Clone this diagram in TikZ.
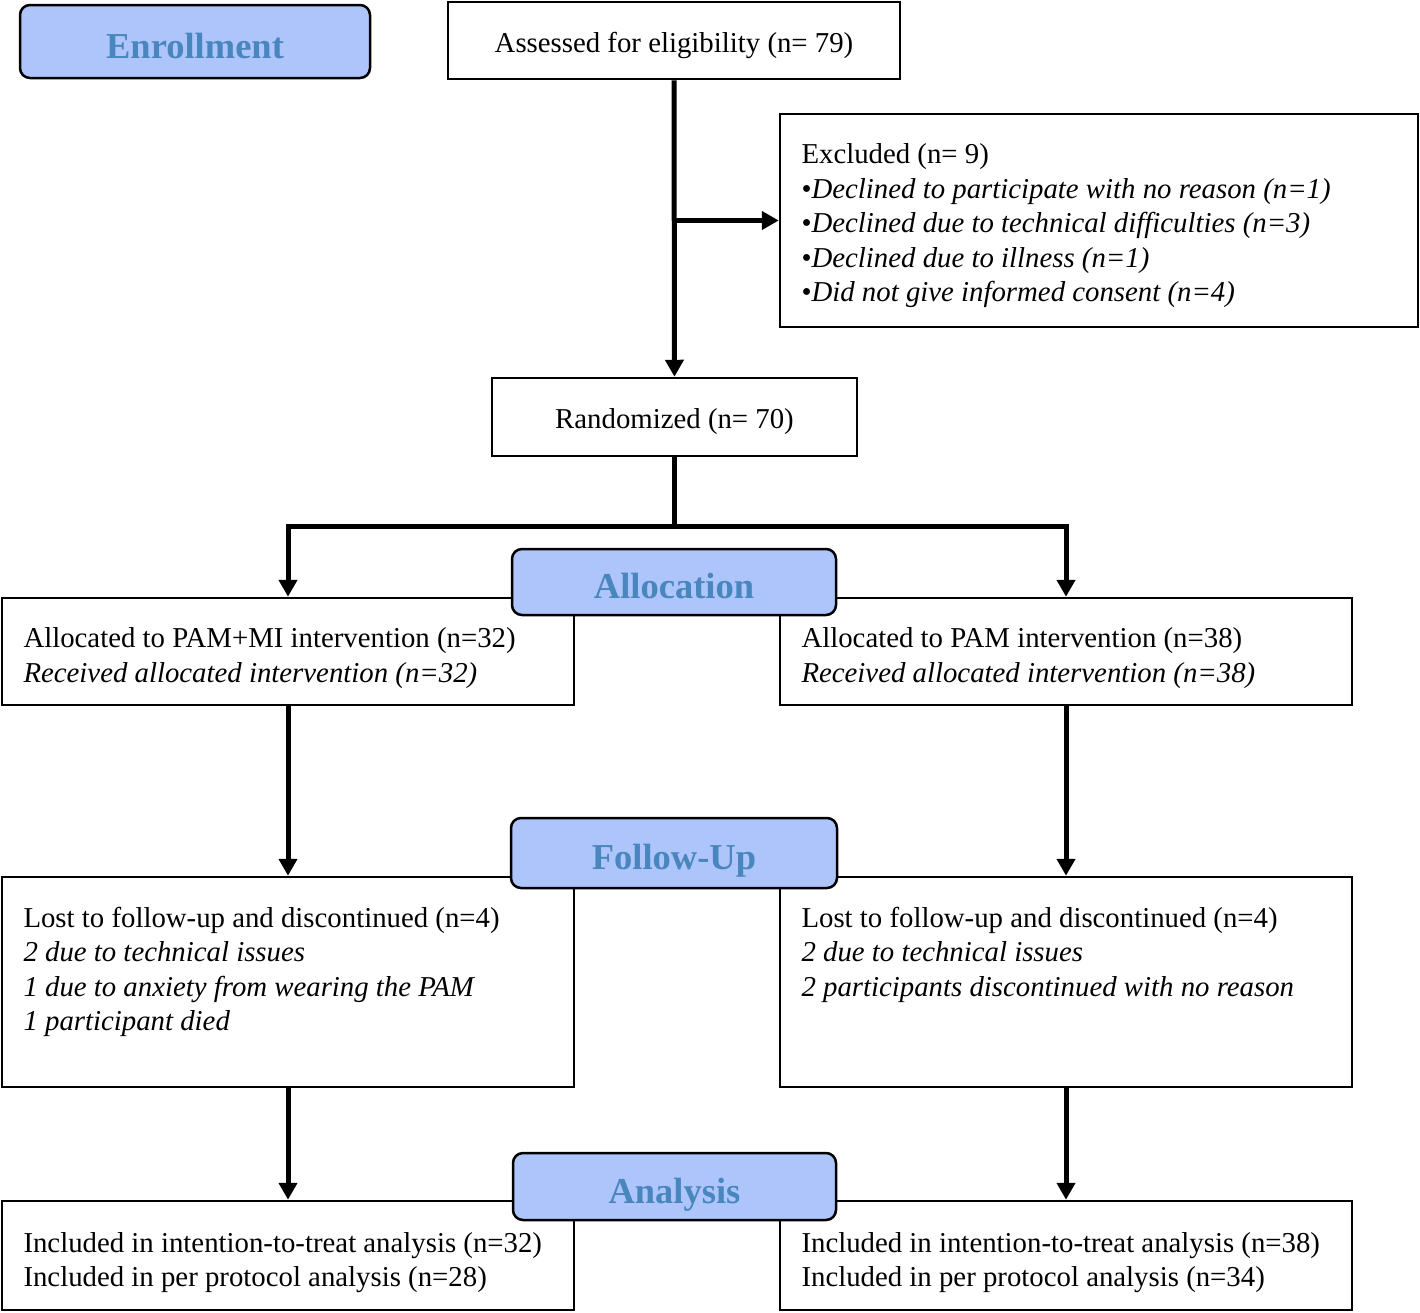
\documentclass[tikz,border=0pt]{standalone}
\usepackage{fontspec}
\setmainfont{Liberation Serif}
\usepackage{xcolor}
\usetikzlibrary{arrows.meta}
\definecolor{stagefill}{RGB}{173,197,250}
\definecolor{stagetext}{RGB}{74,134,190}

% left-aligned lines, hung from the top of the box
\newcommand{\boxlines}[3]{\parbox[c][#2][t]{#1}{\raggedright #3}}

\tikzset{
    box/.style={draw, line width=2.5pt, inner sep=0pt, font=\fontsize{28.8}{34.5}\selectfont},
    onebox/.style={box, text height=23pt, text depth=0pt},
    leftbox/.style={box, inner xsep=21.5pt, inner ysep=#1},
    stage/.style={draw, line width=2.5pt, rounded corners=10pt, fill=stagefill, text=stagetext,
        text height=33pt, text depth=0pt, font=\bfseries\fontsize{36.5}{40}\selectfont},
    flow/.style={line width=5pt},
    arr/.style={flow, -{Triangle[length=17pt, width=18pt]}}
}

\begin{document}
\begin{tikzpicture}[x=1pt, y=-1pt]
        \useasboundingbox (0,0) rectangle (1420,1312);
        \coordinate (split) at (674.5, 526);

        \node[onebox, minimum width=452pt, minimum height=77pt] (assess) at (674, 40.5) {Assessed for eligibility (n= 79)};
        \node[leftbox=30pt] (excl) at (1099, 220.5) {\boxlines{595pt}{153pt}{Excluded (n= 9)\\
            \textbullet\textit{Declined to participate with no reason (n=1)}\\
            \textbullet\textit{Declined due to technical difficulties (n=3)}\\
            \textbullet\textit{Declined due to illness (n=1)}\\
            \textbullet\textit{Did not give informed consent (n=4)}}};
        \node[onebox, minimum width=365pt, minimum height=78pt] (random) at (674.5, 417) {Randomized (n= 70)};

        \node[leftbox=30pt] (allocL) at (288, 651.5) {\boxlines{529pt}{47pt}{Allocated to PAM+MI intervention (n=32)\\
            \textit{Received allocated intervention (n=32)}}};
        \node[leftbox=30pt] (allocR) at (1066, 651.5) {\boxlines{529pt}{47pt}{Allocated to PAM intervention (n=38)\\
            \textit{Received allocated intervention (n=38)}}};

        \node[leftbox=30pt] (lostL) at (288, 982) {\boxlines{529pt}{150pt}{Lost to follow-up and discontinued (n=4)\\
            \textit{2 due to technical issues}\\
            \textit{1 due to anxiety from wearing the PAM}\\
            \textit{1 participant died}}};
        \node[leftbox=30pt] (lostR) at (1066, 982) {\boxlines{529pt}{150pt}{Lost to follow-up and discontinued (n=4)\\
            \textit{2 due to technical issues}\\
            \textit{2 participants discontinued with no reason}}};

        \node[leftbox=31pt] (inclL) at (288, 1255.5) {\boxlines{529pt}{47pt}{Included in intention-to-treat analysis (n=32)\\
            Included in per protocol analysis (n=28)}};
        \node[leftbox=31pt] (inclR) at (1066, 1255.5) {\boxlines{529pt}{47pt}{Included in intention-to-treat analysis (n=38)\\
            Included in per protocol analysis (n=34)}};

        % connectors
        \draw[arr] (assess) -- (random);
        \draw[arr] (assess.south |- excl.west) -- (excl.west);
        \draw[flow] (random) -- (split);
        \draw[arr] (split) -| (allocL.north);
        \draw[arr] (split) -| (allocR.north);
        \draw[arr] (allocL) -- (lostL);
        \draw[arr] (allocR) -- (lostR);
        \draw[arr] (lostL) -- (inclL);
        \draw[arr] (lostR) -- (inclR);

        % stage labels
        \node[stage, minimum width=350pt, minimum height=73pt] (enroll) at (195, 41.5) {Enrollment};
        \node[stage, minimum width=324pt, minimum height=66pt] (allocation) at (674, 582) {Allocation};
        \node[stage, minimum width=326pt, minimum height=70pt] (followup) at (674, 853) {Follow-Up};
        \node[stage, minimum width=323pt, minimum height=67pt] (analysis) at (674.5, 1186.5) {Analysis};
    \end{tikzpicture}
\end{document}
